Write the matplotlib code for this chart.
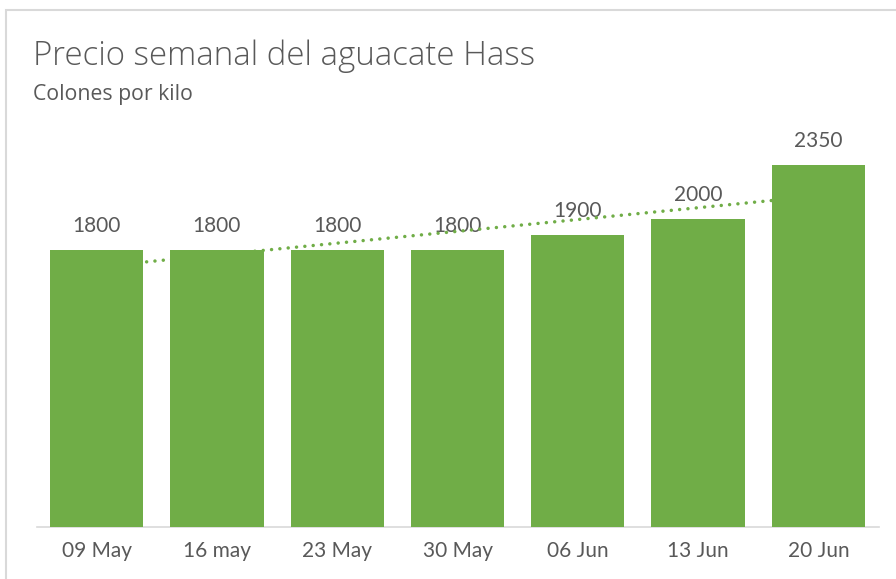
import matplotlib
matplotlib.use("Agg")
import matplotlib.pyplot as plt
import numpy as np
from matplotlib.patches import Rectangle

categories = ["09 May", "16 may", "23 May", "30 May", "06 Jun", "13 Jun", "20 Jun"]
prices = [1800, 1800, 1800, 1800, 1900, 2000, 2350]
title = "Precio semanal del aguacate Hass"
subtitle = "Colones por kilo"

GREEN = "#70AD47"
TEXT = "#595959"
FONT = ["Lato", "DejaVu Sans"]
TFONT = ["Open Sans", "DejaVu Sans"]

W, H = 896, 579
fig = plt.figure(figsize=(W / 100, H / 100), dpi=100)
fig.patch.set_facecolor("white")

# chart border (light gray)
fig.add_artist(Rectangle((6 / W, -0.1), 1.2, (H - 10) / H + 0.1,
                         transform=fig.transFigure, fill=False,
                         edgecolor="#D9D9D9", linewidth=1.5, clip_on=False))

left, right = 36.5, 878.5
bottom = 526.7
ymax = 2500
px_per_unit = (bottom - 250) / 1800
top = bottom - ymax * px_per_unit
ax = fig.add_axes([left / W, (H - bottom) / H, (right - left) / W, (bottom - top) / H])

x = np.arange(len(categories))
ax.bar(x, prices, width=0.775, color=GREEN, zorder=3)

# linear trendline
coef = np.polyfit(x, prices, 1)
ax.plot(x, np.polyval(coef, x), color=GREEN, linewidth=2.5,
        linestyle=(0, (0.01, 2.4)), dash_capstyle="round", zorder=2)

for xi, v in zip(x, prices):
    ax.annotate(f"{v}", (xi, v), xytext=(0, 13), textcoords="offset points",
                ha="center", va="baseline", fontsize=15, color=TEXT,
                family=FONT, zorder=1)

ax.set_xlim(-0.5, len(categories) - 0.5)
ax.set_ylim(0, ymax)
ax.set_xticks(x)
ax.set_xticklabels(categories, fontsize=15, color=TEXT, family=FONT)
ax.tick_params(axis="x", length=0, pad=10)
ax.set_yticks([])
for s in ["top", "right", "left"]:
    ax.spines[s].set_visible(False)
ax.spines["bottom"].set_color("#D9D9D9")
ax.spines["bottom"].set_linewidth(1.2)
ax.patch.set_alpha(0)

fig.text(33 / W, 1 - 65 / H, title, fontsize=23.8, color=TEXT, family=TFONT,
         fontweight="light", ha="left", va="baseline")
fig.text(33 / W, 1 - 100 / H, subtitle, fontsize=15.3, color=TEXT, family=TFONT,
         ha="left", va="baseline")

fig.savefig("out.png", dpi=100, facecolor="white")
